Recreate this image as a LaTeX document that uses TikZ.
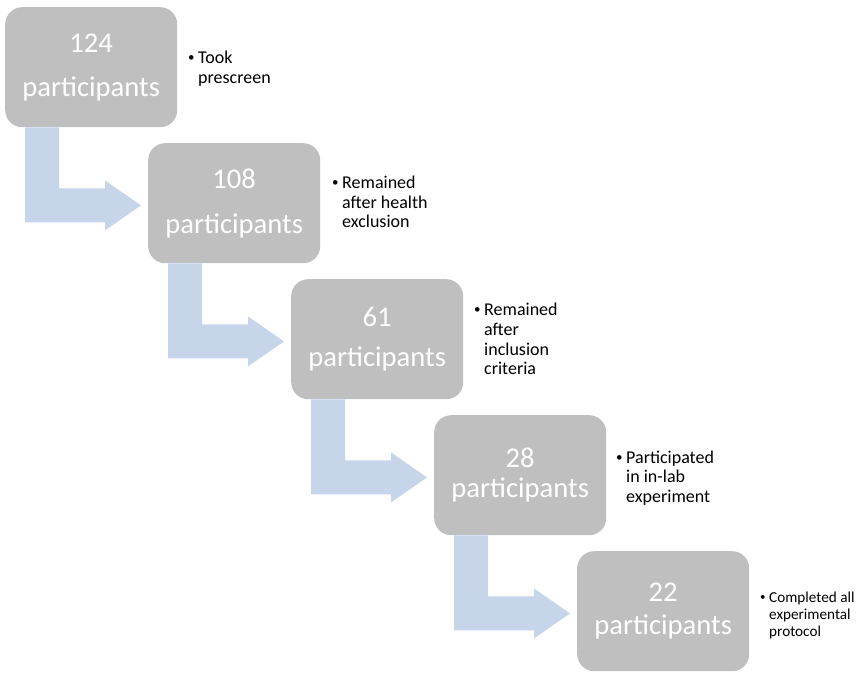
\documentclass[tikz,border=0pt]{standalone}
\usepackage{fontspec}
\setmainfont{Carlito}
\usetikzlibrary{calc}
\definecolor{boxgray}{HTML}{BFBFBF}
\definecolor{arrowblue}{HTML}{C6D5EA}
\tikzset{
  box/.style={fill=boxgray, draw=none, rounded corners=17pt, minimum width=172pt,
    minimum height=120pt, anchor=north west, align=center, text=white, inner sep=0pt,
    font=\fontsize{28.6}{#1}\selectfont},
  note/.style={anchor=west, align=left, inner sep=0pt, text=black,
    font=\fontsize{18}{19.8}\selectfont},
  smallnote/.style={anchor=west, align=left, inner sep=0pt, text=black,
    font=\fontsize{15.2}{17}\selectfont},
  flowarrow/.style={fill=arrowblue, draw=none}
}
\newcommand{\bendarrow}[1]{%
  \fill[flowarrow] ($(#1.south west)+(20,0)$) -- ($(#1.south west)+(54,0)$)
    -- ($(#1.south west)+(54,61)$) -- ($(#1.south west)+(100,61)$)
    -- ($(#1.south west)+(100,53)$) -- ($(#1.south west)+(136,78)$)
    -- ($(#1.south west)+(100,103)$) -- ($(#1.south west)+(100,95)$)
    -- ($(#1.south west)+(20,95)$) -- cycle;}
\newcommand{\bul}[1]{\makebox[#1][l]{\raisebox{0.09em}{\scalebox{0.72}{\textbullet}}}}
\begin{document}
\begin{tikzpicture}[x=1pt,y=-1pt]
\useasboundingbox (0,0) rectangle (858,677);
\node[box=44] (b1) at (5,7) {124\\participants};
\node[box=45] (b2) at (148,143) {108\\participants};
\node[box=40] (b3) at (291,279) {61\\participants};
\node[box=30] (b4) at (434,415) {28\\participants};
\node[box=33] (b5) at (577,551) {22\\participants};
\bendarrow{b1}
\bendarrow{b2}
\bendarrow{b3}
\bendarrow{b4}
\node[note] (t1) at (188,68.5) {\bul{10pt}Took\\\hspace*{10pt}prescreen};
\node[note] (t2) at (332,202) {\bul{10pt}Remained\\\hspace*{10pt}after health\\\hspace*{10pt}exclusion};
\node[note] (t3) at (474,339) {\bul{10pt}Remained\\\hspace*{10pt}after\\\hspace*{10pt}inclusion\\\hspace*{10pt}criteria};
\node[note] (t4) at (616,478) {\bul{10pt}Participated\\\hspace*{10pt}in in-lab\\\hspace*{10pt}experiment};
\node[smallnote] (t5) at (760,615) {\bul{9pt}Completed all\\\hspace*{9pt}experimental\\\hspace*{9pt}protocol};
\end{tikzpicture}
\end{document}
